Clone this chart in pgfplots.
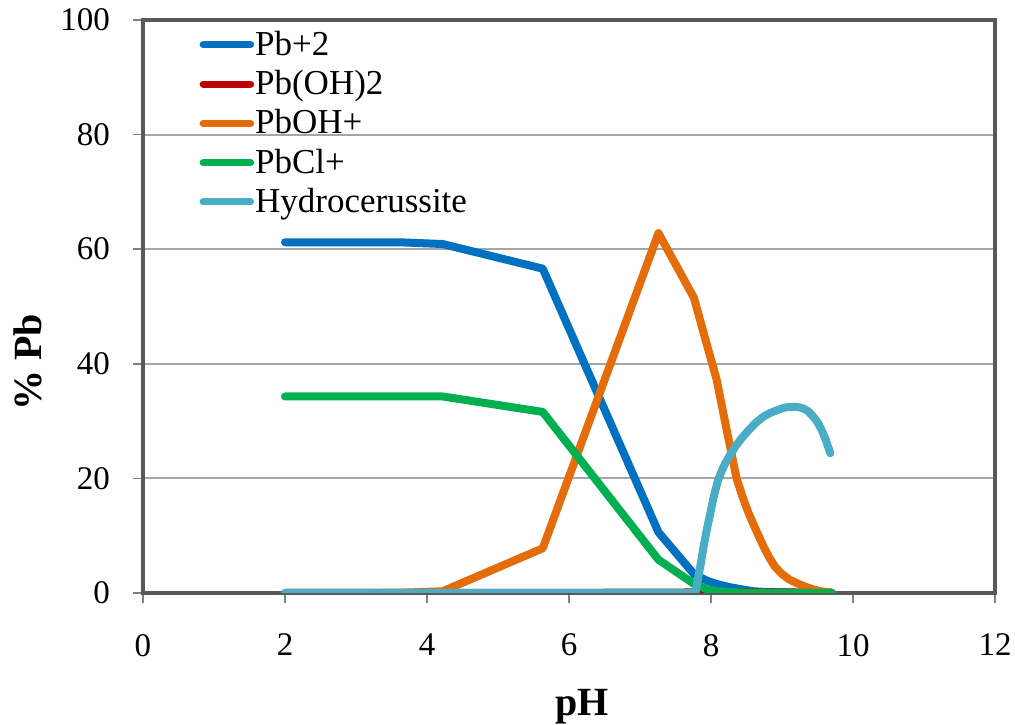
\documentclass[border=0pt]{standalone}
\usepackage{fontspec}
\setmainfont{Liberation Serif}
\usepackage{pgfplots}
\pgfplotsset{compat=1.18}
\definecolor{cPb}{HTML}{0070C0}
\definecolor{cPbOHtwo}{HTML}{C00000}
\definecolor{cPbOH}{HTML}{E46C0A}
\definecolor{cPbCl}{HTML}{00B050}
\definecolor{cHyd}{HTML}{4BACC6}
\definecolor{axgray}{HTML}{595959}
\definecolor{gridgray}{HTML}{A6A6A6}
\begin{document}
\begin{tikzpicture}
\begin{axis}[
  scale only axis, width=426pt, height=286.5pt,
  xmin=0, xmax=12, ymin=0, ymax=100,
  xtick={0,2,...,12}, ytick={0,20,...,100},
  axis line style={draw=axgray, line width=1.8pt},
  tick align=outside, tick pos=left,
  major tick length=5pt,
  tick style={draw=gray, line width=0.8pt},
  ymajorgrids, grid style={draw=gridgray, line width=1pt},
  ticklabel style={font=\fontsize{16.5}{20}\selectfont},
  /pgf/number format/assume math mode=true,
  xticklabel style={yshift=-12pt},
  yticklabel style={xshift=-8pt},
  xlabel={pH},
  xlabel style={font=\fontsize{20}{24}\selectfont\bfseries, at={(axis description cs:0.515,-0.199)}, anchor=center},
  ylabel={\% Pb},
  ylabel style={font=\fontsize{20}{24}\selectfont\bfseries, at={(axis description cs:-0.135,0.403)}, anchor=center},
  legend style={at={(axis description cs:0.066,0.983)}, anchor=north west, draw=none, fill=none,
    font=\fontsize{17.5}{20}\selectfont, row sep=5pt, inner sep=0pt, nodes={inner sep=0.5pt}},
  legend cell align=left,
  legend image code/.code={\draw[#1, line width=3.5pt, line cap=round] (1.75pt,0pt) -- (25.5pt,0pt);},
  every axis plot/.append style={line width=4pt, line join=round, line cap=round},
]
\coordinate (ll) at (rel axis cs:0,0);
\coordinate (ur) at (rel axis cs:1,1);
\addplot[cPb] coordinates {
(2,61.2) (3.62,61.2) (4.22,60.9) (5.63,56.6) (7.26,10.6) (7.76,3.3) (7.95,2.1) (8.1,1.5)
(8.27,1.0) (8.45,0.6) (8.6,0.3) (8.8,0.15) (9.0,0.1) (9.3,0.05) (9.7,0.02)};
\addlegendentry{Pb+2}
\addplot[cPbOHtwo] coordinates {
(2,0) (7.26,0.05) (7.76,0.1) (8.0,0.15) (8.5,0.15) (9.0,0.1) (9.7,0.05)};
\addlegendentry{Pb(OH)2}
\addplot[cPbOH] coordinates {
(2,0) (3.62,0.05) (4.22,0.3) (5.63,7.8) (7.26,62.8) (7.76,51.5) (7.92,44.3) (8.08,37.2) (8.22,28.5) (8.36,20.0)
(8.45,16.6) (8.53,13.9) (8.64,10.8) (8.74,8.1) (8.82,6.2) (8.9,4.6) (9.0,3.3) (9.11,2.3) (9.23,1.6) (9.35,1.0) (9.45,0.6) (9.54,0.3) (9.7,0.05)};
\addlegendentry{PbOH+}
\addplot[cPbCl] coordinates {
(2,34.3) (3.62,34.3) (4.22,34.3) (5.63,31.6) (7.26,5.8) (7.76,1.6) (7.95,0.6) (8.1,0.3)
(8.3,0.15) (8.6,0.05) (9.7,0.01)};
\addlegendentry{PbCl+}
\addplot[cHyd] coordinates {
(2,0) (7.26,0) (7.78,0) (7.81,2.0) (7.84,4.0) (7.87,6.2) (7.90,8.4) (7.94,11.0) (7.99,13.9) (8.04,16.9) (8.10,19.7)
(8.15,21.3) (8.20,22.6) (8.27,24.1) (8.34,25.5) (8.43,27.0) (8.53,28.4) (8.63,29.7) (8.74,30.8) (8.83,31.4)
(8.93,31.9) (9.02,32.3) (9.11,32.5) (9.21,32.5) (9.30,32.2) (9.37,31.7) (9.44,30.8) (9.50,29.8) (9.56,28.4)
(9.62,26.6) (9.68,24.4)};
\addlegendentry{Hydrocerussite}
\end{axis}
\pgfresetboundingbox
\useasboundingbox ([shift={(-71.5pt,-66pt)}]ll) rectangle ([shift={(10pt,10pt)}]ur);
\end{tikzpicture}
\end{document}
